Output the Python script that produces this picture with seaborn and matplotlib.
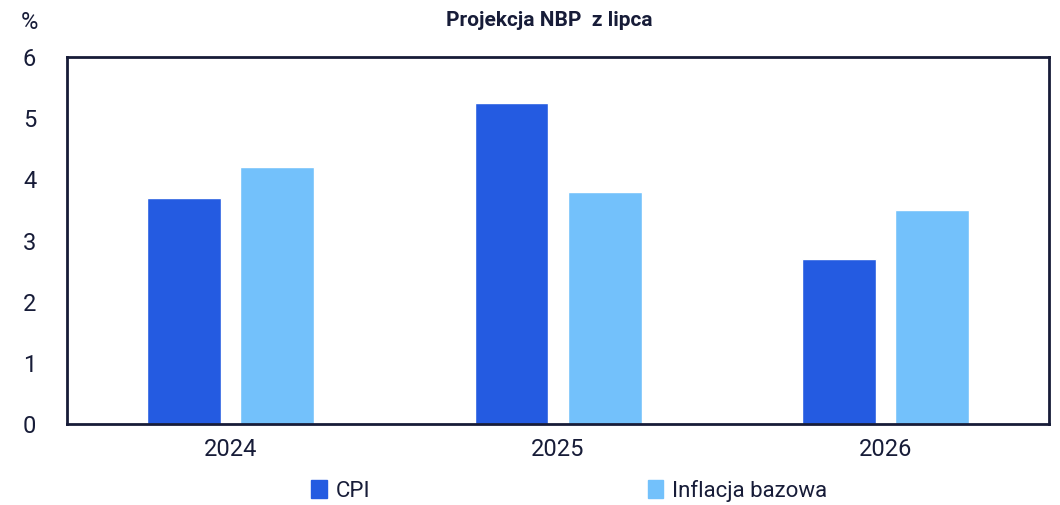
import pandas as pd
import matplotlib.pyplot as plt
import seaborn as sns

years = ["2024", "2025", "2026"]
cpi = [3.7, 5.25, 2.7]
bazowa = [4.2, 3.8, 3.5]
series_names = ["CPI", "Inflacja bazowa"]
colors = ["#245be1", "#73c1fb"]
navy = "#171c38"

df = pd.DataFrame({
    "rok": years * 2,
    "wartosc": cpi + bazowa,
    "seria": [series_names[0]] * 3 + [series_names[1]] * 3,
})

sns.set_theme(style="white")
plt.rcParams["font.family"] = ["Roboto", "DejaVu Sans"]

fig, ax = plt.subplots(figsize=(10.6, 5.05), dpi=100)
fig.subplots_adjust(left=0.063, right=0.99, top=0.887, bottom=0.16)

sns.barplot(data=df, x="rok", y="wartosc", hue="seria", palette=colors,
            width=0.57, gap=0.21, saturation=1, ax=ax, legend=False)

ax.set_ylim(0, 6)
ax.set_xlim(-0.5, 2.5)
ax.set_yticks(range(0, 7))
ax.set_xlabel("")
ax.set_ylabel("")
for s in ax.spines.values():
    s.set_color(navy)
    s.set_linewidth(2)
ax.tick_params(axis="y", length=0, labelsize=17, labelcolor=navy, pad=22)
ax.tick_params(axis="x", length=0, labelsize=17, labelcolor=navy, pad=10)
ax.set_xticks([0.5, 1.5], minor=True)
ax.tick_params(axis="x", which="minor", direction="in", length=8, width=2, color=navy)

fig.text(0.02, 0.955, "%", fontsize=17, color=navy, ha="left", va="center")
fig.text(0.518, 0.96, "Projekcja NBP  z lipca", fontsize=15, fontweight="bold",
         color=navy, ha="center", va="center")

handles = [plt.Rectangle((0, 0), 1, 1, color=c) for c in colors]
fig.legend(handles, series_names, loc="center", bbox_to_anchor=(0.537, 0.028),
           ncol=2, frameon=False, fontsize=16, labelcolor=navy,
           handlelength=0.7, handleheight=0.9, handletextpad=0.4, columnspacing=12.5)

plt.savefig("out.png", dpi=100)
